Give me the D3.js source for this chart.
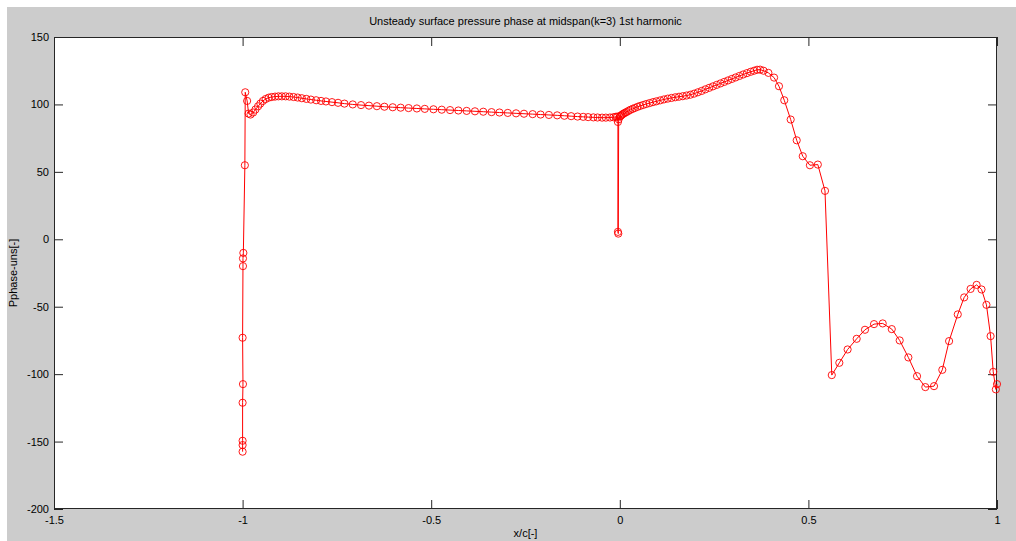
<!DOCTYPE html>
<html>
<head>
<meta charset="utf-8">
<script src="https://cdn.jsdelivr.net/npm/d3@7"></script>
<style>
  html, body { margin: 0; padding: 0; background: #ffffff; }
  svg { display: block; }
  text { font-family: "Liberation Sans", Arial, sans-serif; }
</style>
</head>
<body>
<svg id="chart" width="1016" height="541"></svg>
<script>
// ---------------- data ----------------
const titleText = "Unsteady surface pressure phase at midspan(k=3) 1st harmonic";
const xLabelText = "x/c[-]";
const yLabelText = "Pphase-uns[-]";
const xTicks = [-1.5, -1, -0.5, 0, 0.5, 1];
const yTicks = [-200, -150, -100, -50, 0, 50, 100, 150];
const xDomain = [-1.5, 1];
const yDomain = [-200, 150];

// x/c positions (pressure side -1..0, leading-edge dip, suction side 0..1)
const xc = [
  -1.000, -1.000, -1.000, -1.000, -0.999, -1.000, -0.999, -0.999, -0.998, -0.994,
  -0.993, -0.988, -0.984, -0.979, -0.972, -0.966, -0.959, -0.953, -0.946, -0.939,
  -0.931, -0.923, -0.914, -0.905, -0.896, -0.886, -0.876, -0.865, -0.854, -0.843,
  -0.831, -0.819, -0.805, -0.792, -0.779, -0.763, -0.747, -0.730, -0.708, -0.686,
  -0.665, -0.644, -0.624, -0.602, -0.581, -0.560, -0.538, -0.517, -0.494, -0.472,
  -0.450, -0.428, -0.406, -0.384, -0.362, -0.340, -0.319, -0.297, -0.275, -0.254,
  -0.231, -0.210, -0.188, -0.166, -0.147, -0.129, -0.112, -0.097, -0.084, -0.070,
  -0.059, -0.047, -0.037, -0.026, -0.017, -0.011, -0.007,
  -0.005, -0.005, -0.004, -0.003,
  0.000, 0.002, 0.004, 0.007, 0.010, 0.014, 0.018, 0.023, 0.028, 0.034,
  0.040, 0.047, 0.054, 0.062, 0.070, 0.079, 0.088, 0.097, 0.107, 0.117,
  0.127, 0.137, 0.147, 0.157, 0.167, 0.177, 0.187, 0.197, 0.207, 0.217,
  0.227, 0.237, 0.247, 0.257, 0.267, 0.277, 0.287, 0.297, 0.307, 0.317,
  0.327, 0.337, 0.347, 0.356, 0.364, 0.372, 0.381, 0.394, 0.409, 0.422,
  0.436, 0.453, 0.469, 0.485, 0.504, 0.525, 0.544, 0.562, 0.582, 0.604,
  0.628, 0.650, 0.674, 0.697, 0.721, 0.742, 0.765, 0.788, 0.810, 0.833,
  0.855, 0.873, 0.896, 0.913, 0.930, 0.946, 0.959, 0.972, 0.983, 0.990,
  0.997, 1.000
];

// phase values [deg]
const phase = [
  -157.5, -152.6, -149.4, -121.2, -107.4, -73.0, -19.9, -14.2, -10.1, 54.9,
  109.0, 102.6, 93.2, 92.5, 94.0, 96.2, 98.6, 100.6, 102.6, 104.0,
  105.0, 105.5, 105.8, 106.0, 106.0, 106.0, 105.8, 105.5, 105.1, 104.6,
  104.1, 103.6, 103.1, 102.6, 102.2, 101.7, 101.2, 100.6, 100.0, 99.5,
  99.1, 98.7, 98.3, 97.9, 97.6, 97.3, 97.0, 96.7, 96.4, 96.1,
  95.8, 95.5, 95.2, 94.9, 94.6, 94.3, 94.0, 93.7, 93.4, 93.1,
  92.8, 92.5, 92.2, 91.9, 91.6, 91.3, 91.0, 90.8, 90.6, 90.4,
  90.3, 90.2, 90.2, 90.3, 90.5, 90.8, 91.0,
  87.0, 5.5, 4.2, 89.0,
  91.0, 91.5, 92.0, 92.6, 93.2, 93.8, 94.4, 95.2, 96.0, 96.7,
  97.4, 98.2, 98.9, 99.6, 100.3, 101.0, 101.7, 102.3, 103.0, 103.7,
  104.3, 104.8, 105.3, 105.7, 106.1, 106.6, 107.2, 108.0, 109.0, 110.0,
  111.2, 112.3, 113.4, 114.5, 115.6, 116.7, 117.8, 118.9, 120.0, 121.1,
  122.2, 123.2, 124.2, 125.0, 125.7, 125.8, 125.0, 123.4, 119.9, 113.5,
  103.1, 88.8, 73.4, 61.6, 54.9, 55.4, 35.9, -100.7, -91.6, -81.7,
  -73.8, -67.1, -62.9, -62.4, -66.6, -75.0, -87.6, -101.5, -109.6, -108.9,
  -96.8, -75.5, -55.7, -43.1, -36.8, -33.8, -37.2, -48.6, -71.8, -98.3,
  -111.3, -107.4
];

// ---------------- drawing ----------------
const W = 1016, H = 541;
const plot = { left: 54, top: 37, right: 997, bottom: 509 };
const svg = d3.select("#chart");

// figure background (grey with thin white border on top/left as in screenshot)
svg.append("rect").attr("x", 0).attr("y", 0).attr("width", W).attr("height", H).attr("fill", "#ffffff");
svg.append("rect").attr("x", 7).attr("y", 7).attr("width", W - 7).attr("height", H - 7).attr("fill", "#cccccc");

const x = d3.scaleLinear().domain(xDomain).range([plot.left, plot.right]);
const y = d3.scaleLinear().domain(yDomain).range([plot.bottom, plot.top]);

// axes area
svg.append("rect")
  .attr("x", plot.left).attr("y", plot.top)
  .attr("width", plot.right - plot.left).attr("height", plot.bottom - plot.top)
  .attr("fill", "#ffffff");

const tickLen = 9;
const axisColor = "#262626";
const fmt = d => String(d);

function styleAxis(g) {
  g.select(".domain").remove();
  g.selectAll(".tick line").attr("stroke", axisColor).attr("stroke-width", 1);
  g.selectAll(".tick text").attr("fill", "#000").attr("font-size", "11px")
    .attr("font-family", "'Liberation Sans', Arial, sans-serif");
}

// bottom axis: ticks inward, labels below
const gx = svg.append("g").attr("transform", `translate(0,${plot.bottom})`)
  .call(d3.axisBottom(x).tickValues(xTicks).tickFormat(fmt).tickSizeInner(-tickLen).tickSizeOuter(0).tickPadding(7));
styleAxis(gx);
// top axis: ticks only
const gxt = svg.append("g").attr("transform", `translate(0,${plot.top})`)
  .call(d3.axisTop(x).tickValues(xTicks).tickFormat("").tickSizeInner(-tickLen).tickSizeOuter(0));
styleAxis(gxt);
// left axis
const gy = svg.append("g").attr("transform", `translate(${plot.left},0)`)
  .call(d3.axisLeft(y).tickValues(yTicks).tickFormat(fmt).tickSizeInner(-tickLen).tickSizeOuter(0).tickPadding(5));
styleAxis(gy);
// right axis: ticks only
const gyr = svg.append("g").attr("transform", `translate(${plot.right},0)`)
  .call(d3.axisRight(y).tickValues(yTicks).tickFormat("").tickSizeInner(-tickLen).tickSizeOuter(0));
styleAxis(gyr);

// box
svg.append("rect")
  .attr("x", plot.left + 0.5).attr("y", plot.top + 0.5)
  .attr("width", plot.right - plot.left - 1).attr("height", plot.bottom - plot.top - 1)
  .attr("fill", "none").attr("stroke", axisColor).attr("stroke-width", 1);

// data
const pts = xc.map((v, i) => [v, phase[i]]);
const line = d3.line().x(d => x(d[0])).y(d => y(d[1]));
const clipId = "plotclip";
svg.append("clipPath").attr("id", clipId).append("rect")
  .attr("x", plot.left - 6).attr("y", plot.top).attr("width", plot.right - plot.left + 12).attr("height", plot.bottom - plot.top);

const gData = svg.append("g").attr("clip-path", `url(#${clipId})`);
gData.append("path").datum(pts)
  .attr("d", line).attr("fill", "none").attr("stroke", "#ff0000").attr("stroke-width", 1);
gData.selectAll("circle").data(pts).enter().append("circle")
  .attr("cx", d => x(d[0])).attr("cy", d => y(d[1])).attr("r", 3.6)
  .attr("fill", "none").attr("stroke", "#ff0000").attr("stroke-width", 0.9);

// title and labels
svg.append("text").attr("x", (plot.left + plot.right) / 2).attr("y", 25)
  .attr("text-anchor", "middle").attr("font-size", "11px").attr("fill", "#000").text(titleText);
svg.append("text").attr("x", (plot.left + plot.right) / 2).attr("y", 537)
  .attr("text-anchor", "middle").attr("font-size", "11px").attr("fill", "#000").text(xLabelText);
svg.append("text").attr("transform", `translate(17,${(plot.top + plot.bottom) / 2}) rotate(-90)`)
  .attr("text-anchor", "middle").attr("font-size", "11px").attr("fill", "#000").text(yLabelText);
</script>
</body>
</html>
